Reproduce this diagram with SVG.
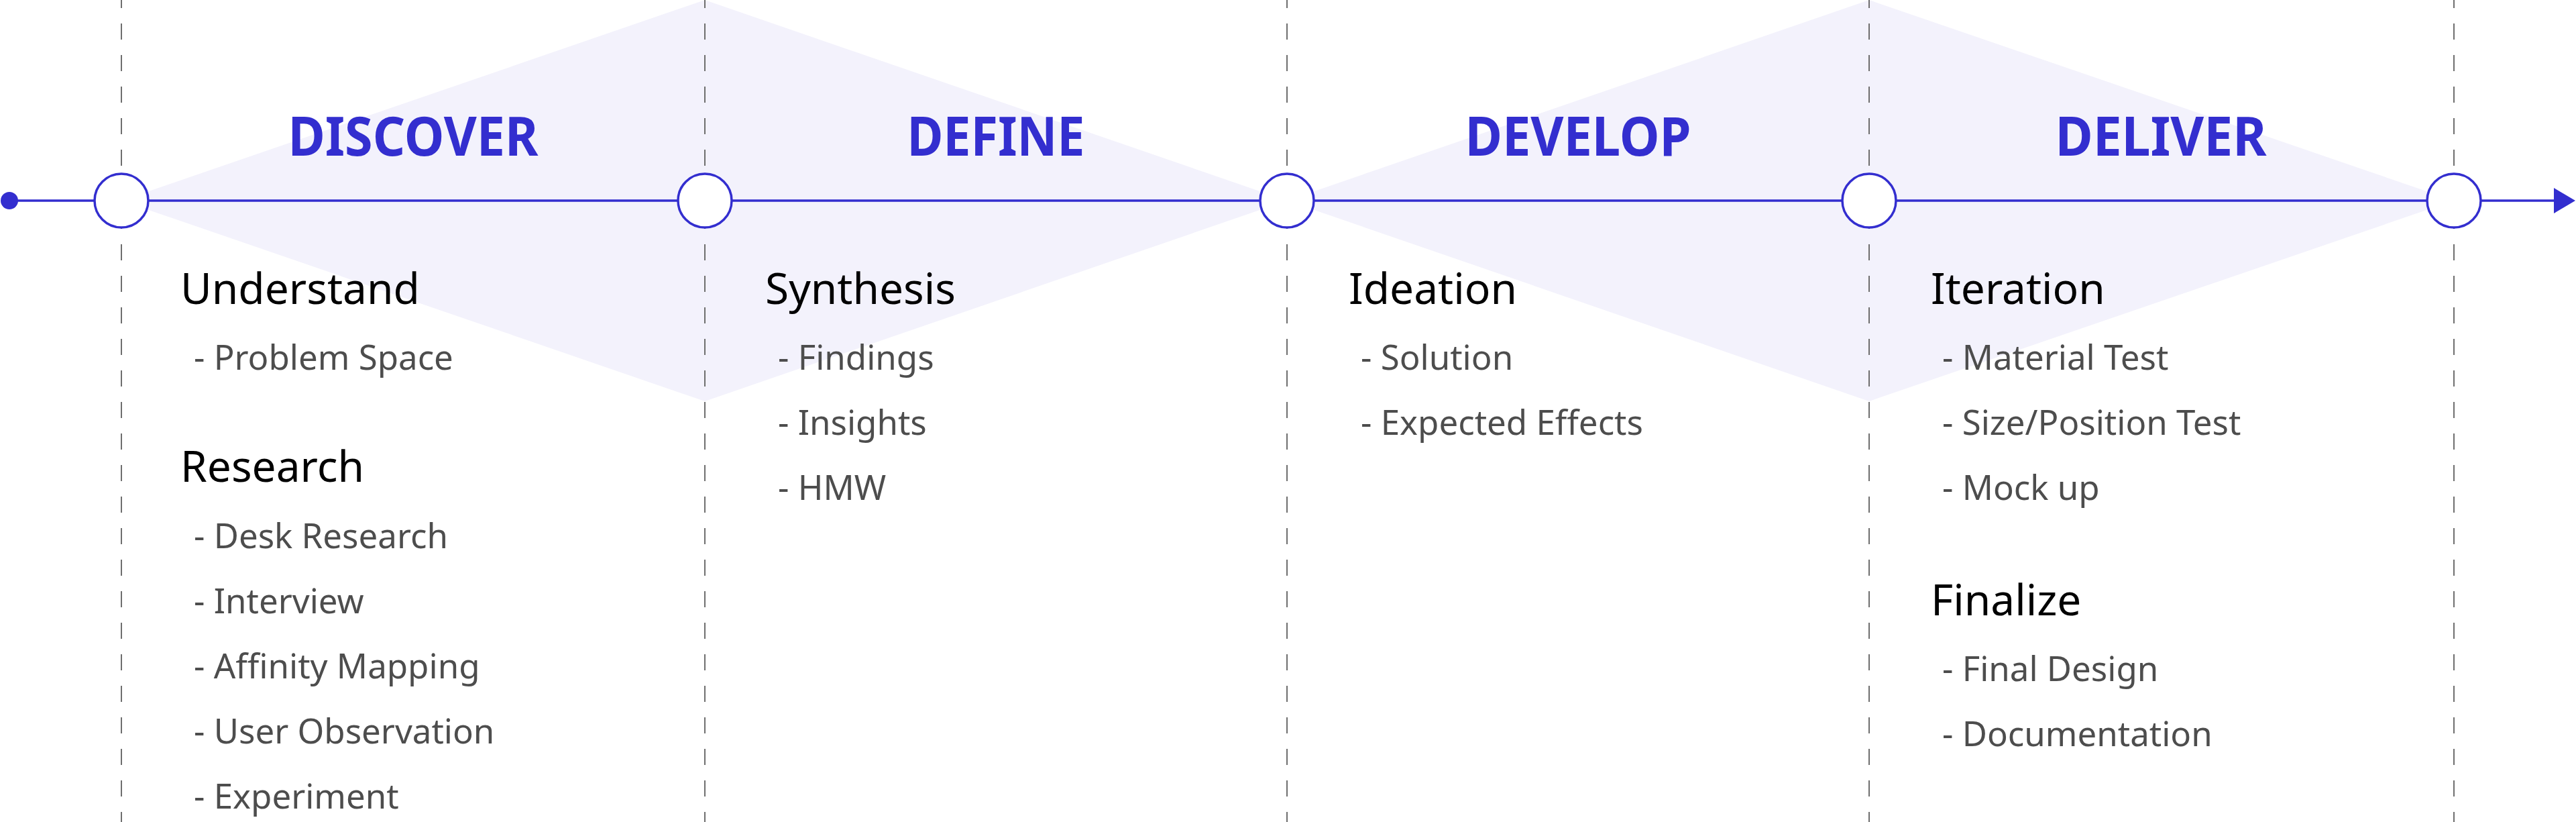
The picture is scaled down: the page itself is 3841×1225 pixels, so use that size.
<svg xmlns="http://www.w3.org/2000/svg" width="3841" height="1225" viewBox="0 0 3841 1225">
  <style>
    .band { fill: #f3f2fc; }
    .guide { stroke: #6e6e6e; stroke-width: 2; stroke-dasharray: 24 23; stroke-dashoffset: 12; fill: none; }
    .axis { stroke: #332ecf; stroke-width: 3.5; fill: none; }
    .node { fill: #ffffff; stroke: #332ecf; stroke-width: 3.5; }
    .title { font-family: "Noto Sans", "Open Sans", sans-serif; font-weight: 700; font-size: 81px; fill: #332ecf; text-anchor: middle; }
    .head { font-family: "Noto Sans", "Open Sans", sans-serif; font-size: 64px; fill: #000000; }
    .item { font-family: "Noto Sans", "Open Sans", sans-serif; font-size: 51px; fill: #4d4d4d; }
  </style>
  <rect x="0" y="0" width="3841" height="1225" fill="#ffffff"/>
  <g id="bands">
    <polygon class="band" points="181,299 1051,0 1919,299 1051,598"/>
    <polygon class="band" points="1919,299 2787,0 3659,299 2787,598"/>
  </g>
  <g id="guides">
    <line class="guide" x1="181" y1="0" x2="181" y2="1225"/>
    <line class="guide" x1="1051" y1="0" x2="1051" y2="1225"/>
    <line class="guide" x1="1919" y1="0" x2="1919" y2="1225"/>
    <line class="guide" x1="2787" y1="0" x2="2787" y2="1225"/>
    <line class="guide" x1="3659" y1="0" x2="3659" y2="1225"/>
  </g>
  <g id="connectors">
    <line class="axis" x1="14" y1="299" x2="3810" y2="299"/>
    <circle cx="14" cy="299" r="13" fill="#332ecf"/>
    <polygon points="3808,280 3840,299 3808,318" fill="#332ecf"/>
  </g>
  <g id="node-1"><circle class="node" cx="181" cy="299" r="40"/></g>
  <g id="node-2"><circle class="node" cx="1051" cy="299" r="40"/></g>
  <g id="node-3"><circle class="node" cx="1919" cy="299" r="40"/></g>
  <g id="node-4"><circle class="node" cx="2787" cy="299" r="40"/></g>
  <g id="node-5"><circle class="node" cx="3659" cy="299" r="40"/></g>

  <g id="discover">
    <text class="title" x="616" y="232" textLength="373" lengthAdjust="spacingAndGlyphs">DISCOVER</text>
    <text class="head" x="269" y="453">Understand</text>
    <text class="item" x="289" y="551">- Problem Space</text>
    <text class="head" x="269" y="718">Research</text>
    <text class="item" x="289" y="817">- Desk Research</text>
    <text class="item" x="289" y="914">- Interview</text>
    <text class="item" x="289" y="1011">- Affinity Mapping</text>
    <text class="item" x="289" y="1108">- User Observation</text>
    <text class="item" x="289" y="1205">- Experiment</text>
  </g>
  <g id="define">
    <text class="title" x="1485" y="232" textLength="265" lengthAdjust="spacingAndGlyphs">DEFINE</text>
    <text class="head" x="1141" y="453">Synthesis</text>
    <text class="item" x="1160" y="551">- Findings</text>
    <text class="item" x="1160" y="648">- Insights</text>
    <text class="item" x="1160" y="745">- HMW</text>
  </g>
  <g id="develop">
    <text class="title" x="2353" y="232" textLength="337" lengthAdjust="spacingAndGlyphs">DEVELOP</text>
    <text class="head" x="2011" y="453">Ideation</text>
    <text class="item" x="2029" y="551">- Solution</text>
    <text class="item" x="2029" y="648">- Expected Effects</text>
  </g>
  <g id="deliver">
    <text class="title" x="3222" y="232" textLength="315" lengthAdjust="spacingAndGlyphs">DELIVER</text>
    <text class="head" x="2879" y="453">Iteration</text>
    <text class="item" x="2896" y="551">- Material Test</text>
    <text class="item" x="2896" y="648">- Size/Position Test</text>
    <text class="item" x="2896" y="745">- Mock up</text>
    <text class="head" x="2879" y="917">Finalize</text>
    <text class="item" x="2896" y="1015">- Final Design</text>
    <text class="item" x="2896" y="1112">- Documentation</text>
  </g>
</svg>
